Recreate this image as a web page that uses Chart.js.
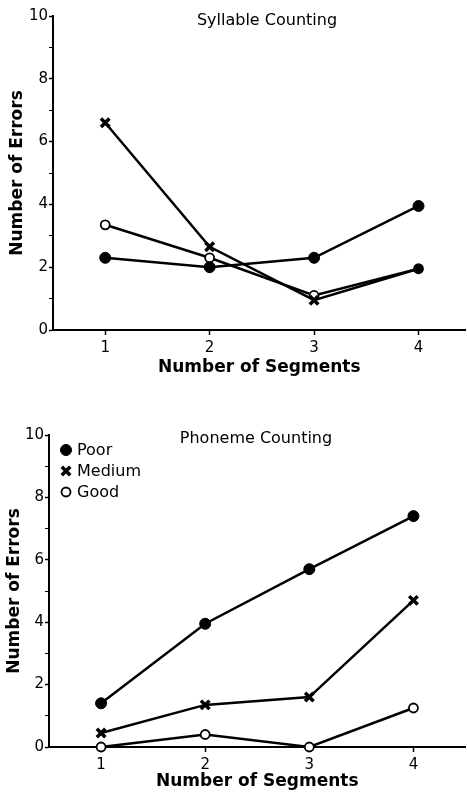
<!DOCTYPE html>
<html>
<head>
<meta charset="utf-8">
<script src="https://cdn.jsdelivr.net/npm/chart.js@4/dist/chart.umd.min.js"></script>
<style>
html, body { margin: 0; background: #fff; overflow: hidden; }
.box { position: absolute; left: 0; width: 475px; }
canvas { display: block; }
</style>
</head>
<body>
<div class="box" style="top:0;height:400px"><canvas id="syllable"></canvas></div>
<div class="box" style="top:400px;height:392px"><canvas id="phoneme"></canvas></div>
<script>
// values
const segments = [1, 2, 3, 4];
const groups = ['Poor', 'Medium', 'Good'];

const syllablePoor = [2.3, 2.0, 2.3, 3.95];
const syllableMedium = [6.6, 2.65, 0.95, 1.95];
const syllableGood = [3.35, 2.3, 1.1, 1.95];

const phonemePoor = [1.4, 3.95, 5.7, 7.4];
const phonemeMedium = [0.45, 1.35, 1.6, 4.7];
const phonemeGood = [0, 0.4, 0, 1.25];

const errorLabels = [0, 2, 4, 6, 8, 10];

Chart.defaults.font.family = "'DejaVu Sans', sans-serif";
Chart.defaults.color = '#000';

const markers = [
    {pointStyle: 'circle', pointRadius: 5.5, pointBackgroundColor: '#000', pointBorderWidth: 1},
    {pointStyle: 'crossRot', pointRadius: 6, pointBackgroundColor: '#000', pointBorderWidth: 3.5},
    {pointStyle: 'circle', pointRadius: 4.5, pointBackgroundColor: '#fff', pointBorderWidth: 1.8}
];

// panel title and (bottom panel) key are drawn inside the plot area
const insideText = {
    id: 'insideText',
    afterDatasetsDraw(chart, args, opts) {
        const {ctx, chartArea} = chart;
        ctx.save();
        ctx.fillStyle = '#000';
        ctx.textBaseline = 'middle';
        ctx.font = "16px 'DejaVu Sans'";
        ctx.textAlign = 'center';
        ctx.fillText(opts.title, chartArea.left + opts.titleX, chartArea.top + opts.titleY);
        if (opts.legend) {
            ctx.textAlign = 'left';
            chart.data.datasets.forEach((ds, i) => {
                const m = markers[i];
                const y = chartArea.top + 15 + i * 21;
                ctx.strokeStyle = '#000';
                ctx.fillStyle = m.pointBackgroundColor;
                ctx.lineWidth = m.pointBorderWidth;
                Chart.helpers.drawPoint(ctx, {
                    pointStyle: m.pointStyle, radius: m.pointRadius,
                    borderWidth: m.pointBorderWidth, rotation: 0
                }, chartArea.left + 17, y);
                ctx.fillStyle = '#000';
                ctx.fillText(ds.label, chartArea.left + 28, y + 1);
            });
        }
        ctx.restore();
    }
};

function makeChart(id, series, cfg) {
    const datasets = series.map((values, i) => Object.assign({
        label: groups[i],
        data: values.map((v, j) => ({x: segments[j], y: v})),
        borderColor: '#000',
        pointBorderColor: '#000',
        borderWidth: 2.5,
        tension: 0,
        clip: false
    }, markers[i], (cfg.overrides || [])[i] || {}));

    return new Chart(document.getElementById(id), {
        type: 'line',
        data: {datasets: datasets},
        plugins: [insideText],
        options: {
            responsive: true,
            maintainAspectRatio: false,
            animation: false,
            layout: {padding: {top: cfg.top, right: 2, left: 0, bottom: 0}},
            plugins: {
                legend: {display: false},
                tooltip: {enabled: false},
                insideText: {title: cfg.title, titleX: cfg.titleX, titleY: cfg.titleY, legend: cfg.legend}
            },
            scales: {
                x: {
                    type: 'linear',
                    min: 0.5,
                    max: cfg.xMax,
                    afterBuildTicks: s => { s.ticks = segments.map(v => ({value: v})); },
                    afterFit: s => { s.height = cfg.xHeight; },
                    ticks: {font: {size: 15}, padding: 4, autoSkip: false, maxRotation: 0},
                    grid: {drawOnChartArea: false, color: '#000', tickLength: 5, tickWidth: 1.5},
                    border: {color: '#000', width: 2},
                    title: {
                        display: true,
                        text: 'Number of Segments',
                        font: {size: 17, weight: 'bold'},
                        padding: {top: 0, bottom: cfg.xTitlePad}
                    }
                },
                y: {
                    min: 0,
                    max: 10,
                    afterFit: s => { s.width = cfg.yWidth; },
                    ticks: {
                        stepSize: 1,
                        autoSkip: false,
                        padding: 1,
                        font: {size: 15},
                        callback: v => errorLabels.includes(v) ? v : ''
                    },
                    grid: {
                        drawOnChartArea: false,
                        color: '#000',
                        tickLength: 4,
                        tickWidth: c => (c.tick && c.tick.value % 2) ? 1 : 1.5
                    },
                    border: {color: '#000', width: 2},
                    title: {
                        display: true,
                        text: 'Number of Errors',
                        font: {size: 17, weight: 'bold'},
                        padding: {top: cfg.yTitlePad, bottom: 0}
                    }
                }
            }
        }
    });
}

makeChart('syllable', [syllablePoor, syllableMedium, syllableGood], {
    title: 'Syllable Counting', titleX: 214, titleY: 5,
    legend: false, top: 16, xMax: 4.45, xHeight: 70, xTitlePad: 22,
    yWidth: 53, yTitlePad: 7,
    // medium and good coincide at 4 segments, printed as a filled square
    overrides: [null, {
        pointStyle: ['crossRot', 'crossRot', 'crossRot', 'rect'],
        pointRadius: [6, 6, 6, 5],
        pointBorderWidth: [3.5, 3.5, 3.5, 1]
    }, null]
});

makeChart('phoneme', [phonemePoor, phonemeMedium, phonemeGood], {
    title: 'Phoneme Counting', titleX: 207, titleY: 4,
    legend: true, top: 35, xMax: 4.5, xHeight: 45, xTitlePad: 0,
    yWidth: 49, yTitlePad: 4
});
</script>
</body>
</html>
